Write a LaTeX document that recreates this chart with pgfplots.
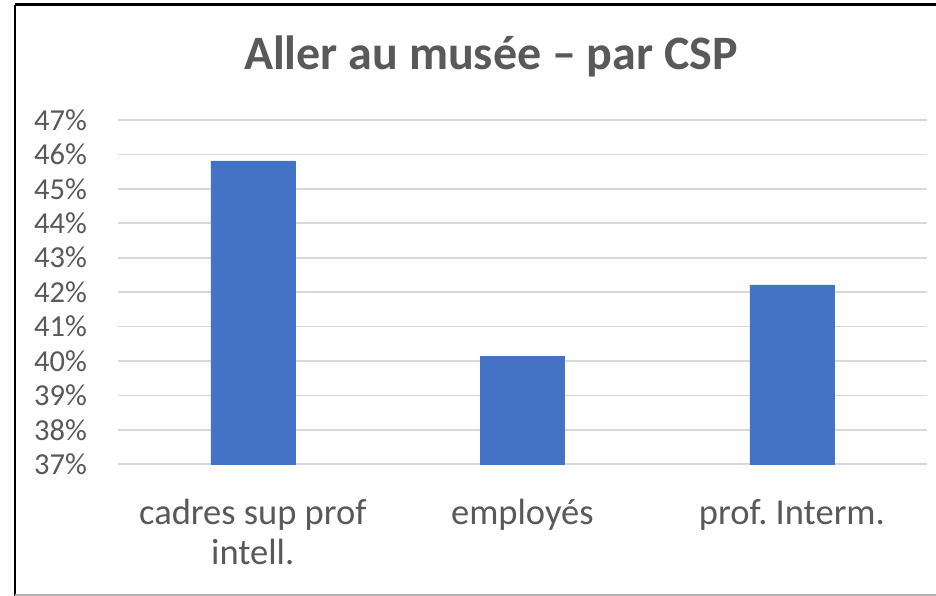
\documentclass[border=0pt]{standalone}
\usepackage{pgfplots}
\pgfplotsset{compat=1.18}
\usepackage{fontspec}
\setmainfont{Carlito}
\frenchspacing
\definecolor{barblue}{HTML}{4472C4}
\definecolor{gridgrey}{HTML}{D9D9D9}
\definecolor{txt}{HTML}{595959}
\begin{document}
\begin{tikzpicture}
\useasboundingbox (0pt,0pt) rectangle (936pt,596pt);
\fill[white] (0pt,0pt) rectangle (936pt,596pt);
\begin{axis}[
  at={(118pt,131.7pt)}, anchor=south west,
  scale only axis, width=808.7pt, height=344.3pt,
  xmin=-0.5, xmax=2.5, ymin=37, ymax=47,
  axis line style={draw=none},
  major tick length=0pt,
  ymajorgrids, grid style={gridgrey, line width=1.6pt},
  ytick={37,38,39,40,41,42,43,44,45,46,47},
  yticklabels={37\%,38\%,39\%,40\%,41\%,42\%,43\%,44\%,45\%,46\%,47\%},
  yticklabel style={font=\fontsize{30.5}{36}\selectfont, text=txt, anchor=east, inner sep=0pt, xshift=-31pt},
  xtick={0,1,2},
  xticklabels={cadres sup prof\\intell., employés, prof. Interm.},
  xticklabel style={font=\fontsize{36.5}{40}\selectfont, text=txt, align=center, anchor=north, inner sep=0pt, yshift=-35pt},
  clip=false,
]
\addplot[ybar, bar width=84pt, fill=barblue, draw=barblue] coordinates {(0,45.81) (1,40.13) (2,42.21)};
\end{axis}
\node[anchor=base, text=txt, font=\fontsize{48}{58}\selectfont\bfseries] at (491pt,526pt) {Aller au musée – par CSP};
\draw[black, line width=3pt] (15pt,591pt) -- (936pt,591pt);
\draw[black, line width=2pt] (15pt,591pt) -- (15pt,0pt);
\draw[gray!60, line width=1.5pt] (15pt,1pt) -- (936pt,1pt);
\end{tikzpicture}
\end{document}
